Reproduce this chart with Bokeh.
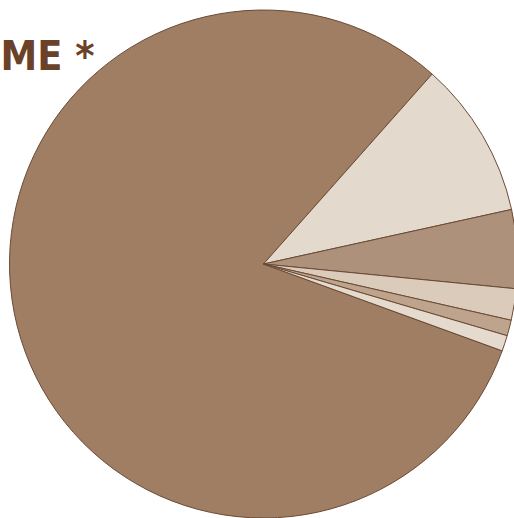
import math
from bokeh.plotting import figure
from bokeh.models import Range1d, ColumnDataSource
from bokeh.core.properties import value
from bokeh.embed import file_html
from bokeh.resources import INLINE

# Data
categories = ["A", "B", "C", "D", "E", "F"]
shares = [81, 10, 5, 2, 1, 1]
colors = ["#9f7e63", "#e4d9cd", "#ae917a", "#dacbbb", "#bea48d", "#e5dace"]
title_text = "ME *"

W, H = 514, 518
cx, cy = 263, H - 263.5
R = 254
start_deg = -20.0

total = float(sum(shares))
starts, ends = [], []
acc = 0.0
for s in shares:
    a0 = start_deg - acc / total * 360.0
    a1 = a0 - s / total * 360.0
    starts.append(math.radians(a1))
    ends.append(math.radians(a0))
    acc += s

src = ColumnDataSource(dict(cat=categories, share=shares, color=colors,
                            start=starts, end=ends))

p = figure(width=W, height=H, output_backend="svg", toolbar_location=None,
           x_range=Range1d(0, W), y_range=Range1d(0, H), min_border=0)
p.axis.visible = False
p.grid.visible = False
p.outline_line_color = None
p.background_fill_color = "white"
p.border_fill_color = "white"

p.text(x=[0], y=[H - 55], text=[title_text],
       text_font=value("'DejaVu Sans Condensed', 'Roboto Condensed', 'Liberation Sans Narrow', 'DejaVu Sans', sans-serif"),
       text_font_style="bold", text_font_size="41px", text_color="#6b4128",
       text_baseline="alphabetic", text_align="left")

p.wedge(x=cx, y=cy, radius=R, start_angle="start", end_angle="end",
        direction="anticlock", fill_color="color", line_color="#6b4a35",
        line_width=1, source=src)

open("out.html", "w").write(file_html(p, INLINE))
